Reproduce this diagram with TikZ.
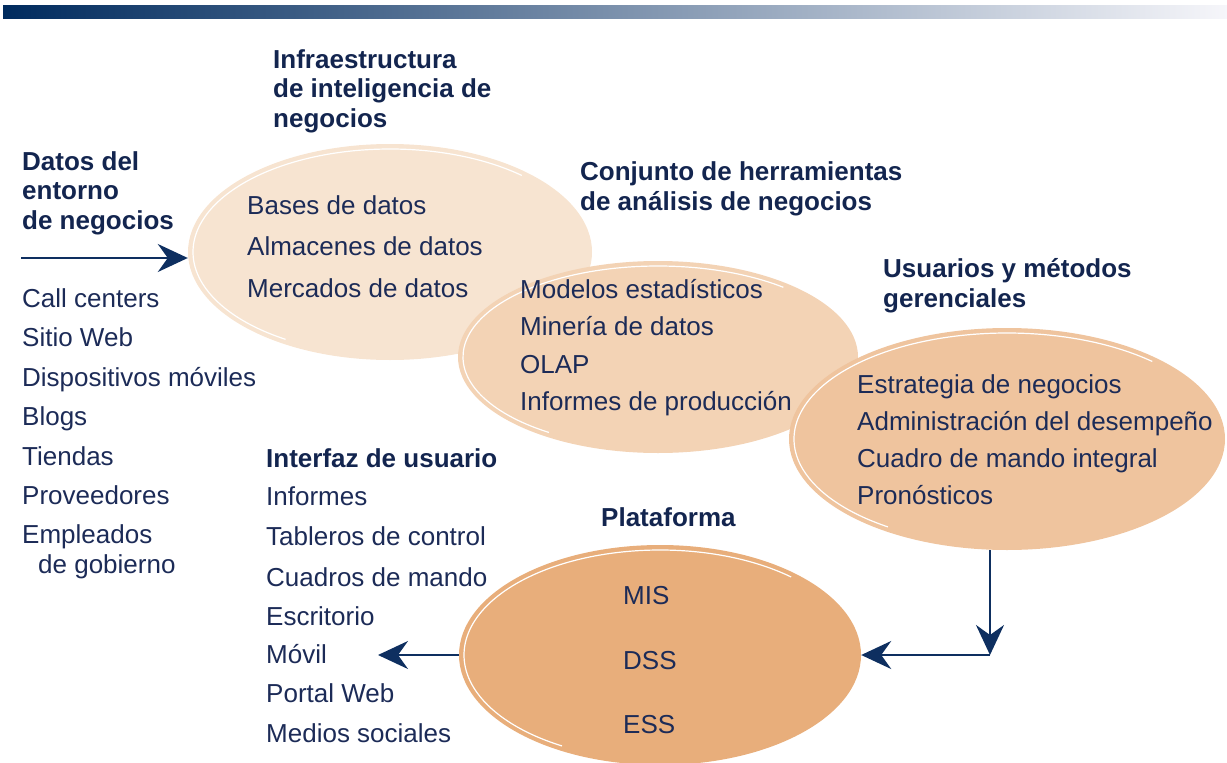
\documentclass[tikz,border=0pt]{standalone}
\usepackage{fontspec}
\setmainfont{Liberation Sans}
\usetikzlibrary{shapes.geometric,arrows.meta}
\definecolor{navy}{HTML}{0E2F60}
\definecolor{txt}{HTML}{1C2B57}
\definecolor{hdr}{HTML}{13254F}
\definecolor{eA}{HTML}{F7E4D1}
\definecolor{eB}{HTML}{F3D3B5}
\definecolor{eC}{HTML}{EFC49E}
\definecolor{eD}{HTML}{E8AE7B}
\definecolor{barL}{HTML}{002B5E}
\definecolor{barM}{HTML}{56709C}
\definecolor{barR}{HTML}{F6F6FA}
\begin{document}
\begin{tikzpicture}[x=1pt,y=1pt,
  blob/.style={ellipse, draw=none, inner sep=0pt},
  shine/.style={draw=white, line width=1.2pt},
  item/.style={anchor=base west, inner sep=0pt, text=txt, font=\fontsize{26}{29.5}\selectfont},
  head/.style={anchor=base west, inner sep=0pt, text=hdr, align=left, font=\fontsize{26}{29.5}\selectfont\bfseries},
  arr/.style={draw=navy, line width=2.2pt, -{Stealth[length=30pt,width=28pt,inset=10pt]}}]
\useasboundingbox (0,0) rectangle (1227,-763);
\shade[left color=barL, middle color=barM, right color=barR] (3,-5) rectangle (1227,-18);

% ellipses
\node[blob, fill=eA, minimum width=404pt, minimum height=216pt] (e1) at (390,-252) {};
\draw[shine] (e1.center) ++(48:197 and 103) arc[start angle=48, end angle=238, x radius=197, y radius=103];
\node[blob, fill=eB, minimum width=400pt, minimum height=192pt] (e2) at (658,-357) {};
\draw[shine] (e2.center) ++(50:195 and 91) arc[start angle=50, end angle=236, x radius=195, y radius=91];
\node[blob, fill=eC, minimum width=436pt, minimum height=222pt] (e3) at (1007,-439) {};
\draw[shine] (e3.center) ++(47:213 and 106) arc[start angle=47, end angle=236, x radius=213, y radius=106];
\node[blob, fill=eD, minimum width=402pt, minimum height=220pt] (e4) at (660,-655) {};
\draw[shine] (e4.center) ++(48:196 and 105) arc[start angle=48, end angle=240, x radius=196, y radius=105];

% headers (anchor = baseline of last line)
\node[head] (hInfra) at (273,-127) {Infraestructura\\de inteligencia de\\negocios};
\node[head] (hDatos) at (22,-229) {Datos del\\entorno\\de negocios};
\node[head] (hConj) at (580,-210) {Conjunto de herramientas\\de análisis de negocios};
\node[head] (hUsu) at (883,-307) {Usuarios y métodos\\gerenciales};
\node[head] (hPlat) at (601,-526) {Plataforma};
\node[head] (hInt) at (266,-467) {Interfaz de usuario};

% left list
\node[item] (s1) at (22,-307) {Call centers};
\node[item] (s2) at (22,-346) {Sitio Web};
\node[item] (s3) at (22,-386) {Dispositivos móviles};
\node[item] (s4) at (22,-425) {Blogs};
\node[item] (s5) at (22,-465) {Tiendas};
\node[item] (s6) at (22,-504) {Proveedores};
\node[item] (s7) at (22,-543) {Empleados};
\node[item] (s8) at (38,-573) {de gobierno};

% ellipse 1
\node[item] (a1) at (247,-214) {Bases de datos};
\node[item] (a2) at (247,-255) {Almacenes de datos};
\node[item] (a3) at (247,-297) {Mercados de datos};

% ellipse 2
\node[item] (b1) at (520,-298) {Modelos estadísticos};
\node[item] (b2) at (520,-335.5) {Minería de datos};
\node[item] (b3) at (520,-373) {OLAP};
\node[item] (b4) at (520,-410) {Informes de producción};

% ellipse 3
\node[item] (c1) at (857,-393) {Estrategia de negocios};
\node[item] (c2) at (857,-430) {Administración del desempeño};
\node[item] (c3) at (857,-467) {Cuadro de mando integral};
\node[item] (c4) at (857,-504) {Pronósticos};

% ellipse 4
\node[item] (d1) at (623,-604) {MIS};
\node[item] (d2) at (623,-669) {DSS};
\node[item] (d3) at (623,-733) {ESS};

% interface list
\node[item] (i1) at (266,-505) {Informes};
\node[item] (i2) at (266,-545) {Tableros de control};
\node[item] (i3) at (266,-586) {Cuadros de mando};
\node[item] (i4) at (266,-625) {Escritorio};
\node[item] (i5) at (266,-663) {Móvil};
\node[item] (i6) at (266,-702) {Portal Web};
\node[item] (i7) at (266,-742) {Medios sociales};

% connectors
\coordinate (src) at (21,-258);
\draw[arr] (src) -- (src -| e1.west);
\coordinate (corner) at (990,-655);
\draw[arr] (corner |- e3.south) -- (corner);
\draw[arr] (corner) -- (e4.east);
\coordinate (out) at (378,-655);
\draw[arr] (e4.west) -- (out);
\end{tikzpicture}
\end{document}
